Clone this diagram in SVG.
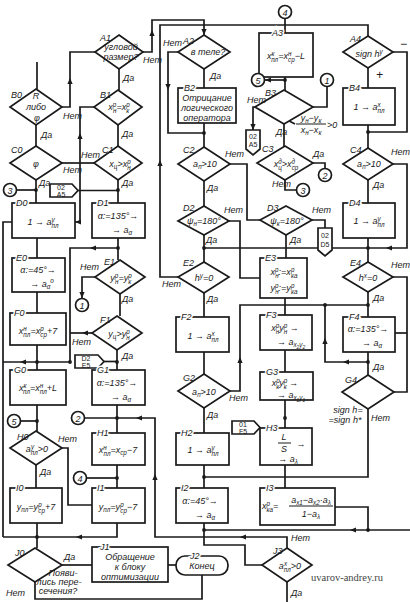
<svg xmlns="http://www.w3.org/2000/svg" width="410" height="602" viewBox="0 0 410 602">
<defs>
<style>
.n{fill:#fff;stroke:#1a1a1a;stroke-width:1.7}
.w path{fill:none;stroke:#1a1a1a;stroke-width:1.7}
text{font-family:"Liberation Sans",Arial,sans-serif;font-style:italic;font-size:9px;fill:#1a1a1a}
.c{text-anchor:middle}
.s{font-size:6.3px}
.ss{font-size:4.8px}
.t{font-size:7px;font-style:normal}
.lb{paint-order:stroke;stroke:#fff;stroke-width:3px}
.wm{font-family:"Liberation Serif",serif;font-style:normal;font-size:10.5px;fill:#444}
</style>
<path id="ah" d="M0,0 L-6,-2.6 L-6,2.6 Z" fill="#1a1a1a"/>
</defs>
<rect width="410" height="602" fill="#fff"/>

<g id="connectors" class="w">
<path d="M37,62V89"/>
<path d="M36,125V146"/>
<path d="M36,180V203"/>
<path d="M17,190H36"/>
<path d="M37,238V258"/>
<path d="M37,292V313"/>
<path d="M37,345V370"/>
<path d="M3,362H70"/>
<path d="M37,405V431"/>
<path d="M21,421H37"/>
<path d="M36,465V488"/>
<path d="M62,448H68V505H92"/>
<path d="M37,523V548"/>
<path d="M3,537H117V523"/>
<path d="M62,565H92"/>
<path d="M35,582V599H202V575"/>
<path d="M168,565H176"/>
<path d="M12,222H3V537"/>
<path d="M62,107H70V52H95"/>
<path d="M119,69V90"/>
<path d="M118,125V146"/>
<path d="M94,107H80V222H75"/>
<path d="M62,163H94"/>
<path d="M118,180V203"/>
<path d="M78,190.5H118"/>
<path d="M118,238V260"/>
<path d="M118,248H70V362"/>
<path d="M95,277H82V298"/>
<path d="M120,294V316"/>
<path d="M92,333H70"/>
<path d="M104,361.5H117"/>
<path d="M117,350V370"/>
<path d="M117,405V433"/>
<path d="M85,418H155V537H287V548"/>
<path d="M87,478H117"/>
<path d="M117,465V488"/>
<path d="M143,52H152V20H204V35"/>
<path d="M178,277H160V25H368V36"/>
<path d="M178,52H168V133H204"/>
<path d="M204,69V88"/>
<path d="M204,123V147"/>
<path d="M204,181V206"/>
<path d="M230,164H247V220H260"/>
<path d="M204,235V262"/>
<path d="M204,248H368"/>
<path d="M229,221H240V278H260"/>
<path d="M204,293V317"/>
<path d="M204,352V374"/>
<path d="M204,408V433"/>
<path d="M230,391H240V305H368"/>
<path d="M204,465V488"/>
<path d="M204,477H368V409"/>
<path d="M204,523V545H245V565H262"/>
<path d="M204,530H410"/>
<path d="M285,19V33"/>
<path d="M285,77V90"/>
<path d="M285,80H265"/>
<path d="M284,124V146"/>
<path d="M255,107H253V130"/>
<path d="M313,107H327V87"/>
<path d="M313,163H325V168"/>
<path d="M285,180V190H296"/>
<path d="M312,220H325V228"/>
<path d="M286,235V258"/>
<path d="M285,298V315"/>
<path d="M285,350V372"/>
<path d="M285,400V428"/>
<path d="M285,465V488"/>
<path d="M335,507H368V530"/>
<path d="M287,582V602"/>
<path d="M368,68V88"/>
<path d="M393,52H407V132H368"/>
<path d="M368,125V148"/>
<path d="M368,180V203"/>
<path d="M393,164H407V248H368"/>
<path d="M368,238V262"/>
<path d="M368,292V317"/>
<path d="M393,277H407V392H394"/>
<path d="M395,333H407"/>
<path d="M368,352V375"/>
<path d="M368,362H325V305"/>
<path d="M272,112L295,124"/>
<g fill="#1a1a1a">
<circle cx="36" cy="190" r="1.9"/><circle cx="118" cy="190" r="1.9"/><circle cx="37" cy="362" r="1.9"/>
<circle cx="37" cy="421" r="1.9"/><circle cx="37" cy="537" r="1.9"/><circle cx="118" cy="248" r="1.9"/>
<circle cx="117" cy="362" r="1.9"/><circle cx="117" cy="418" r="1.9"/><circle cx="117" cy="478" r="1.9"/>
<circle cx="204" cy="133" r="1.9"/><circle cx="204" cy="248" r="1.9"/><circle cx="204" cy="477" r="1.9"/>
<circle cx="204" cy="530" r="1.9"/><circle cx="285" cy="418" r="1.9"/><circle cx="368" cy="132" r="1.9"/>
<circle cx="368" cy="248" r="1.9"/><circle cx="368" cy="305" r="1.9"/><circle cx="368" cy="362" r="1.9"/>
<circle cx="325" cy="305" r="1.9"/><circle cx="70" cy="362" r="1.9"/><circle cx="285" cy="80" r="1.9"/>
<circle cx="368" cy="530" r="1.9"/>
</g>
<use href="#ah" transform="translate(70,78) rotate(-90)"/>
<use href="#ah" transform="translate(152,30) rotate(-90)"/>
<use href="#ah" transform="translate(204,35) rotate(90)"/>
<use href="#ah" transform="translate(160,160) rotate(-90)"/>
<use href="#ah" transform="translate(168,90) rotate(90)"/>
<use href="#ah" transform="translate(75,222) rotate(180)"/>
<use href="#ah" transform="translate(80,133) rotate(-90)"/>
<use href="#ah" transform="translate(90,248) rotate(180)"/>
<use href="#ah" transform="translate(82,298) rotate(90)"/>
<use href="#ah" transform="translate(82,333) rotate(180)"/>
<use href="#ah" transform="translate(20,362) rotate(180)"/>
<use href="#ah" transform="translate(136,418) rotate(180)"/>
<use href="#ah" transform="translate(155,474) rotate(-90)"/>
<use href="#ah" transform="translate(240,537) rotate(180)"/>
<use href="#ah" transform="translate(76,537) rotate(180)"/>
<use href="#ah" transform="translate(240,357) rotate(-90)"/>
<use href="#ah" transform="translate(350,530) rotate(180)"/>
<use href="#ah" transform="translate(343,362) rotate(180)"/>
<use href="#ah" transform="translate(325,338) rotate(-90)"/>
<use href="#ah" transform="translate(386,248) rotate(180)"/>
<use href="#ah" transform="translate(265,80) rotate(180)"/>
<use href="#ah" transform="translate(253,130) rotate(90)"/>
</g>

<!-- column 0 -->
<g id="B0"><polygon class="n" points="36,89 62,107 36,125 10,107"/><text x="11" y="98">B0</text><text x="36" y="99" class="c">R</text><text x="36" y="110" class="c">либо</text><text x="37" y="121" class="c">φ</text><text x="63" y="119">Нет</text><text x="41" y="138">Да</text></g>
<g id="C0"><polygon class="n" points="36,146 62,163 36,180 10,163"/><text x="11" y="153">C0</text><text x="36" y="167" class="c">φ</text><text x="63" y="173">Нет</text><text x="39" y="186">Да</text></g>
<g id="c3a"><circle class="n" cx="10" cy="190" r="6.5"/><text x="10" y="193.5" class="c">3</text></g>
<g id="P1"><polygon class="n" points="50,184 72,184 78,190.5 72,197 50,197"/><text x="61" y="190" class="c t">02</text><text x="61" y="196.5" class="c t">A5</text></g>
<g id="D0"><rect class="n" x="12" y="203" width="63" height="35"/><text x="16" y="206" class="lb">D0</text><text x="43" y="225" class="c">1 → a<tspan class="s" dy="-3.5">y</tspan><tspan class="s" dx="-3.2" dy="6">пл</tspan></text></g>
<g id="E0"><rect class="n" x="12" y="258" width="53" height="34"/><text x="16" y="261" class="lb">E0</text><text x="38" y="273" class="c">α:=45°→</text><text x="42" y="287" class="c">→ a<tspan class="s" dy="2">α</tspan><tspan class="s" dy="-6">о</tspan></text></g>
<g id="F0"><rect class="n" x="10" y="313" width="56" height="32"/><text x="14" y="316" class="lb">F0</text><text x="38" y="334" class="c">x<tspan class="s" dy="-3.5">н</tspan><tspan class="s" dx="-3.4" dy="6">пл</tspan><tspan dy="-2.5">=x</tspan><tspan class="s" dy="-3.5">р</tspan><tspan class="s" dx="-3.4" dy="6">ср</tspan><tspan dy="-2.5">+7</tspan></text></g>
<g id="G0"><rect class="n" x="10" y="370" width="56" height="35"/><text x="14" y="373" class="lb">G0</text><text x="38" y="391" class="c">x<tspan class="s" dy="-3.5">к</tspan><tspan class="s" dx="-3.4" dy="6">пл</tspan><tspan dy="-2.5">=x</tspan><tspan class="s" dy="-3.5">н</tspan><tspan class="s" dx="-3.4" dy="6">пл</tspan><tspan dy="-2.5">+L</tspan></text></g>
<g id="c5a"><circle class="n" cx="14" cy="421" r="6.5"/><text x="14" y="424.5" class="c">5</text></g>
<g id="H0"><polygon class="n" points="36,431 62,448 36,465 10,448"/><text x="17" y="440">H0</text><text x="37" y="452" class="c">a<tspan class="s" dy="-3.5">y</tspan><tspan class="s" dx="-3.2" dy="6">пл</tspan><tspan dy="-2.5">&gt;0</tspan></text><text x="58" y="442">Нет</text><text x="40" y="475">Да</text></g>
<g id="I0"><rect class="n" x="10" y="488" width="52" height="35"/><text x="16" y="491" class="lb">I0</text><text x="36" y="510" class="c">y<tspan class="s" dy="2">пл</tspan><tspan dy="-2">=y</tspan><tspan class="s" dy="-3.5">р</tspan><tspan class="s" dx="-3.4" dy="6">ср</tspan><tspan dy="-2.5">+7</tspan></text></g>
<g id="J0"><polygon class="n" points="35,548 62,565 35,582 8,565"/><text x="15" y="556">J0</text><text x="64" y="560">Да</text><text x="63" y="576" class="c">Появи-</text><text x="59" y="585" class="c">лись пере-</text><text x="58" y="594" class="c">сечения?</text><text x="6" y="596">Нет</text></g>

<!-- column 1 -->
<g id="A1"><polygon class="n" points="119,35 143,52 119,69 95,52"/><text x="100" y="41">A1</text><text x="121" y="50" class="c">угловой</text><text x="121" y="60" class="c">размер?</text><text x="143" y="63">Нет</text><text x="123" y="81">Да</text></g>
<g id="B1"><polygon class="n" points="118,90 142,107 118,125 94,107"/><text x="100" y="98">B1</text><text x="119" y="110" class="c">x<tspan class="s" dy="-3.5">р</tspan><tspan class="s" dx="-3.4" dy="6">н</tspan><tspan dy="-2.5">=x</tspan><tspan class="s" dy="-3.5">р</tspan><tspan class="s" dx="-3.4" dy="6">к</tspan></text><text x="122" y="137">Да</text></g>
<g id="C1"><polygon class="n" points="118,146 142,163 118,180 94,163"/><text x="102" y="153">C1</text><text x="120" y="167" class="c">x<tspan class="s" dy="2">ц</tspan><tspan dy="-2">&gt;x</tspan><tspan class="s" dy="-3.5">р</tspan><tspan class="s" dx="-3.4" dy="6">н</tspan></text><text x="81" y="158">Нет</text><text x="122" y="186">Да</text></g>
<g id="D1"><rect class="n" x="92" y="203" width="53" height="35"/><text x="97" y="206" class="lb">D1</text><text x="118" y="219" class="c">α:=135°→</text><text x="122" y="233" class="c">→ a<tspan class="s" dy="2">α</tspan></text></g>
<g id="E1"><polygon class="n" points="120,260 145,277 120,294 95,277"/><text x="104" y="265">E1</text><text x="121" y="281" class="c">y<tspan class="s" dy="-3.5">р</tspan><tspan class="s" dx="-3.4" dy="6">н</tspan><tspan dy="-2.5">=y</tspan><tspan class="s" dy="-3.5">р</tspan><tspan class="s" dx="-3.4" dy="6">к</tspan></text><text x="80" y="270">Нет</text><text x="122" y="302">Да</text></g>
<g id="c1a"><circle class="n" cx="82" cy="305" r="6.5"/><text x="82" y="308.5" class="c">1</text></g>
<g id="F1"><polygon class="n" points="117,316 142,333 117,350 92,333"/><text x="100" y="323">F1</text><text x="119" y="337" class="c">y<tspan class="s" dy="2">ц</tspan><tspan dy="-2">&gt;y</tspan><tspan class="s" dy="-3.5">р</tspan><tspan class="s" dx="-3.4" dy="6">н</tspan></text><text x="72" y="345">Нет</text><text x="122" y="359">Да</text></g>
<g id="P2"><polygon class="n" points="75,355 98,355 104,361.5 98,368 75,368"/><text x="86" y="361" class="c t">D2</text><text x="86" y="367.5" class="c t">E5</text></g>
<g id="G1"><rect class="n" x="92" y="370" width="53" height="35"/><text x="97" y="373" class="lb">G1</text><text x="117" y="386" class="c">α:=135°→</text><text x="121" y="400" class="c">→ a<tspan class="s" dy="2">α</tspan></text></g>
<g id="c2a"><circle class="n" cx="78" cy="418" r="6.5"/><text x="78" y="421.5" class="c">2</text></g>
<g id="H1"><rect class="n" x="92" y="433" width="53" height="32"/><text x="97" y="436" class="lb">H1</text><text x="118" y="453" class="c">x<tspan class="s" dy="-3.5">н</tspan><tspan class="s" dx="-3.4" dy="6">пл</tspan><tspan dy="-2.5">=x</tspan><tspan class="s" dy="2">ср</tspan><tspan dy="-2">−7</tspan></text></g>
<g id="c4a"><circle class="n" cx="80" cy="478" r="6.5"/><text x="80" y="481.5" class="c">4</text></g>
<g id="I1"><rect class="n" x="92" y="488" width="53" height="35"/><text x="97" y="491" class="lb">I1</text><text x="118" y="510" class="c">y<tspan class="s" dy="2">пл</tspan><tspan dy="-2">=y</tspan><tspan class="s" dy="-3.5">р</tspan><tspan class="s" dx="-3.4" dy="6">ср</tspan><tspan dy="-2.5">−7</tspan></text></g>
<g id="J1"><rect class="n" x="92" y="547" width="76" height="35"/><text x="100" y="550" class="lb">J1</text><text x="130" y="560" class="c">Обращение</text><text x="130" y="570" class="c">к блоку</text><text x="130" y="580" class="c">оптимизации</text></g>

<!-- column 2 -->
<g id="A2"><polygon class="n" points="204,35 230,52 204,69 178,52"/><text x="183" y="44">A2</text><text x="208" y="55" class="c">в теле?</text><text x="163" y="46">Нет</text><text x="210" y="79">Да</text></g>
<g id="B2"><rect class="n" x="178" y="88" width="58" height="35"/><text x="184" y="91" class="lb">B2</text><text x="207" y="101" class="c">Отрицание</text><text x="207" y="111" class="c">логического</text><text x="207" y="121" class="c">оператора</text></g>
<g id="C2"><polygon class="n" points="204,147 230,164 204,181 178,164"/><text x="183" y="153">C2</text><text x="205" y="167" class="c">a<tspan class="s" dy="2">п</tspan><tspan dy="-2">&gt;10</tspan></text><text x="225" y="157">Нет</text><text x="207" y="191">Да</text></g>
<g id="D2"><polygon class="n" points="204,206 229,221 204,235 178,221"/><text x="183" y="211">D2</text><text x="204" y="224" class="c">ψ<tspan class="s" dy="2">н</tspan><tspan dy="-2">=180°</tspan></text><text x="224" y="213">Нет</text><text x="206" y="243">Да</text></g>
<g id="E2"><polygon class="n" points="204,262 229,277 204,293 178,277"/><text x="183" y="266">E2</text><text x="204" y="281" class="c">h<tspan class="s" dy="-3.5">y</tspan><tspan dy="3.5">=0</tspan></text><text x="162" y="287">Нет</text><text x="207" y="302">Да</text></g>
<g id="F2"><rect class="n" x="176" y="317" width="53" height="35"/><text x="181" y="320" class="lb">F2</text><text x="203" y="339" class="c">1 → a<tspan class="s" dy="-3.5">x</tspan><tspan class="s" dx="-3.2" dy="6">пл</tspan></text></g>
<g id="G2"><polygon class="n" points="204,374 230,391 204,408 178,391"/><text x="183" y="381">G2</text><text x="204" y="395" class="c">a<tspan class="s" dy="2">п</tspan><tspan dy="-2">&gt;10</tspan></text><text x="229" y="401">Нет</text><text x="207" y="418">Да</text></g>
<g id="H2"><rect class="n" x="176" y="433" width="53" height="32"/><text x="181" y="436" class="lb">H2</text><text x="203" y="453" class="c">1 → a<tspan class="s" dy="-3.5">y</tspan><tspan class="s" dx="-3.2" dy="6">пл</tspan></text></g>
<g id="I2"><rect class="n" x="176" y="488" width="52" height="35"/><text x="181" y="491" class="lb">I2</text><text x="200" y="504" class="c">α:=45°→</text><text x="205" y="518" class="c">→ a<tspan class="s" dy="2">α</tspan></text></g>
<g id="J2"><rect class="n" x="176" y="556" width="52" height="19" rx="9"/><text x="190" y="559" class="lb">J2</text><text x="202" y="569" class="c">Конец</text></g>

<!-- column 3 -->
<g id="c4b"><circle class="n" cx="285" cy="12" r="6.5"/><text x="285" y="15.5" class="c">4</text></g>
<g id="A3"><rect class="n" x="259" y="33" width="54" height="44"/><text x="272" y="36" class="lb">A3</text><text x="286" y="59" class="c">x<tspan class="s" dy="-3.5">к</tspan><tspan class="s" dx="-3.4" dy="6">пл</tspan><tspan dy="-2.5">=x</tspan><tspan class="s" dy="-3.5">н</tspan><tspan class="s" dx="-3.4" dy="6">ср</tspan><tspan dy="-2.5">−L</tspan></text></g>
<g id="c5b"><circle class="n" cx="258" cy="80" r="6.5"/><text x="258" y="83.5" class="c">5</text></g>
<g id="c1b"><circle class="n" cx="327" cy="80" r="6.5"/><text x="327" y="83.5" class="c">1</text></g>
<g id="B3"><polygon class="n" points="284,90 313,107 284,124 255,107"/><text x="265" y="96">B3</text><text x="247" y="103">Нет</text><text x="276" y="135">Да</text><text x="311" y="121" class="c">y<tspan class="s" dy="2">н</tspan><tspan dy="-2">−y</tspan><tspan class="s" dy="2">к</tspan></text><path d="M296,124H326" stroke="#1a1a1a" stroke-width="1"/><text x="311" y="133" class="c">x<tspan class="s" dy="2">н</tspan><tspan dy="-2">−x</tspan><tspan class="s" dy="2">к</tspan></text><text x="327" y="128">&gt;0</text></g>
<g id="P3"><polygon class="n" points="246,130 260,130 260,149 253,155 246,149"/><text x="253" y="139" class="c t">02</text><text x="253" y="147" class="c t">A5</text></g>
<g id="C3"><polygon class="n" points="285,146 313,163 285,180 257,163"/><text x="262" y="152">C3</text><text x="286" y="167" class="c">x<tspan class="s" dy="-3.5">д</tspan><tspan class="s" dx="-3.4" dy="6">ц</tspan><tspan dy="-2.5">&gt;x</tspan><tspan class="s" dy="-3.5">д</tspan><tspan class="s" dx="-3.4" dy="6">ср</tspan></text><text x="313" y="157">Да</text><text x="272" y="187">Нет</text></g>
<g id="c2b"><circle class="n" cx="325" cy="175" r="6.5"/><text x="325" y="178.5" class="c">2</text></g>
<g id="c3b"><circle class="n" cx="303" cy="190" r="6.5"/><text x="303" y="193.5" class="c">3</text></g>
<g id="D3"><polygon class="n" points="286,206 312,220 286,235 260,220"/><text x="267" y="211">D3</text><text x="287" y="224" class="c">ψ<tspan class="s" dy="2">к</tspan><tspan dy="-2">=180°</tspan></text><text x="312" y="213">Нет</text><text x="290" y="243">Да</text></g>
<g id="P4"><polygon class="n" points="318,228 332,228 332,250 325,256 318,250"/><text x="325" y="238" class="c t">02</text><text x="325" y="247" class="c t">D5</text></g>
<g id="E3"><rect class="n" x="260" y="258" width="47" height="40"/><text x="265" y="261" class="lb">E3</text><text x="284" y="275" class="c">x<tspan class="s" dy="-3.5">р</tspan><tspan class="s" dx="-3.4" dy="6">н</tspan><tspan dy="-2.5">:=x</tspan><tspan class="s" dy="-3.5">р</tspan><tspan class="s" dx="-3.4" dy="6">ка</tspan></text><text x="284" y="291" class="c">y<tspan class="s" dy="-3.5">р</tspan><tspan class="s" dx="-3.4" dy="6">н</tspan><tspan dy="-2.5">:=y</tspan><tspan class="s" dy="-3.5">р</tspan><tspan class="s" dx="-3.4" dy="6">ка</tspan></text></g>
<g id="F3"><rect class="n" x="260" y="315" width="52" height="35"/><text x="266" y="318" class="lb">F3</text><text x="285" y="331" class="c">x<tspan class="s" dy="-3.5">р</tspan><tspan class="s" dx="-3.4" dy="6">н</tspan><tspan dy="-2.5">y</tspan><tspan class="s" dy="-3.5">р</tspan><tspan class="s" dx="-3.4" dy="6">н</tspan><tspan dy="-2.5"> →</tspan></text><text x="291" y="345" class="c">→ a<tspan class="s" dy="2">x</tspan><tspan class="ss" dy="1.5">2</tspan><tspan class="s" dy="-1.5">y</tspan><tspan class="ss" dy="1.5">2</tspan></text></g>
<g id="G3"><rect class="n" x="260" y="372" width="53" height="28"/><text x="266" y="375" class="lb">G3</text><text x="285" y="386" class="c">x<tspan class="s" dy="-3.5">р</tspan><tspan class="s" dx="-3.4" dy="6">к</tspan><tspan dy="-2.5">y</tspan><tspan class="s" dy="-3.5">р</tspan><tspan class="s" dx="-3.4" dy="6">к</tspan><tspan dy="-2.5"> →</tspan></text><text x="291" y="398" class="c">→ a<tspan class="s" dy="2">x</tspan><tspan class="ss" dy="1.5">1</tspan><tspan class="s" dy="-1.5">y</tspan><tspan class="ss" dy="1.5">1</tspan></text></g>
<g id="P5"><polygon class="n" points="232,421 254,421 260,427.5 254,434 232,434"/><text x="243" y="427" class="c t">01</text><text x="243" y="433.5" class="c t">F5</text></g>
<g id="H3"><rect class="n" x="260" y="428" width="52" height="37"/><text x="266" y="431" class="lb">H3</text><text x="284" y="440" class="c">L</text><path d="M278,443H291" stroke="#1a1a1a" stroke-width="1"/><text x="284" y="452" class="c">S</text><text x="301" y="447" class="c">→</text><text x="288" y="462" class="c">→ a<tspan class="s" dy="2">λ</tspan></text></g>
<g id="I3"><rect class="n" x="260" y="488" width="75" height="37"/><text x="266" y="491" class="lb">I3</text><text x="262" y="509">x<tspan class="s" dy="-3.5">р</tspan><tspan class="s" dx="-3.4" dy="6">ка</tspan><tspan dy="-2.5">=</tspan></text><text x="311" y="503" class="c">a<tspan class="s" dy="2">x1</tspan><tspan dy="-2">−a</tspan><tspan class="s" dy="2">x2</tspan><tspan dy="-2">·a</tspan><tspan class="s" dy="2">λ</tspan></text><path d="M289,506H333" stroke="#1a1a1a" stroke-width="1"/><text x="311" y="517" class="c">1−a<tspan class="s" dy="2">λ</tspan></text></g>
<g id="J3"><polygon class="n" points="287,548 312,565 287,582 262,565"/><text x="273" y="554">J3</text><text x="291" y="541">Нет</text><text x="290" y="569" class="c">a<tspan class="s" dy="-3.5">x</tspan><tspan class="s" dx="-3.2" dy="6">пл</tspan><tspan dy="-2.5">&gt;0</tspan></text><text x="291" y="596">Да</text></g>

<!-- column 4 -->
<g id="A4"><polygon class="n" points="368,36 393,52 368,68 343,52"/><text x="350" y="42">A4</text><text x="369" y="57" class="c">sign h<tspan class="s" dy="-3.5">y</tspan></text><text x="400" y="48" style="font-size:12px">−</text><text x="376" y="79" style="font-size:12px">+</text></g>
<g id="B4"><rect class="n" x="343" y="88" width="52" height="37"/><text x="349" y="91" class="lb">B4</text><text x="369" y="110" class="c">1 → a<tspan class="s" dy="-3.5">x</tspan><tspan class="s" dx="-3.2" dy="6">пл</tspan></text></g>
<g id="C4"><polygon class="n" points="368,148 393,164 368,180 343,164"/><text x="350" y="153">C4</text><text x="369" y="167" class="c">a<tspan class="s" dy="2">п</tspan><tspan dy="-2">&gt;10</tspan></text><text x="391" y="155">Нет</text><text x="373" y="188">Да</text></g>
<g id="D4"><rect class="n" x="343" y="203" width="52" height="35"/><text x="349" y="206" class="lb">D4</text><text x="369" y="224" class="c">1 → a<tspan class="s" dy="-3.5">y</tspan><tspan class="s" dx="-3.2" dy="6">пл</tspan></text></g>
<g id="E4"><polygon class="n" points="368,262 393,277 368,292 343,277"/><text x="350" y="266">E4</text><text x="368" y="281" class="c">h<tspan class="s" dy="-3.5">x</tspan><tspan dy="3.5">=0</tspan></text><text x="391" y="268">Нет</text><text x="373" y="301">Да</text></g>
<g id="F4"><rect class="n" x="343" y="317" width="52" height="35"/><text x="349" y="320" class="lb">F4</text><text x="368" y="332" class="c">α:=135°→</text><text x="372" y="346" class="c">→ a<tspan class="s" dy="2">α</tspan></text></g>
<g id="G4"><polygon class="n" points="368,375 394,392 368,409 342,392"/><text x="345" y="383">G4</text><text x="373" y="370">Да</text><text x="348" y="413" class="c">sign h=</text><text x="345" y="423" class="c">=sign h*</text><text x="371" y="421">Нет</text></g>

<text x="311" y="581" class="wm">uvarov-andrey.ru</text>
</svg>
